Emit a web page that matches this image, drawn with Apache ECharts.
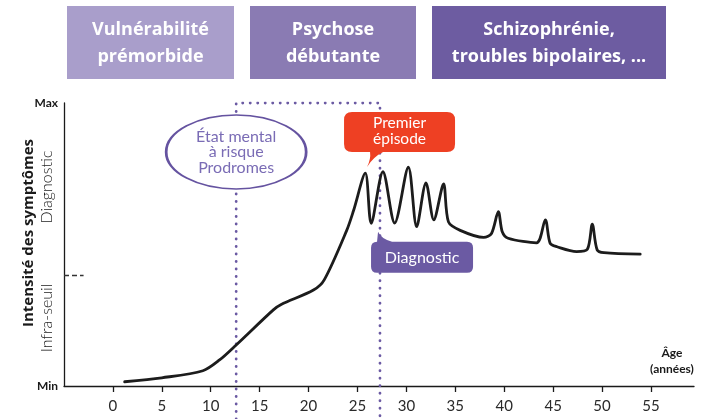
<!DOCTYPE html>
<html lang="fr">
<head>
<meta charset="utf-8">
<title>Intensité des symptômes selon l'âge</title>
<script src="https://cdn.jsdelivr.net/npm/echarts@6/dist/echarts.min.js"></script>
<style>
  html, body { margin: 0; padding: 0; background: #fff; }
  #chart { width: 702px; height: 419px; }
</style>
</head>
<body>
<div id="chart"></div>
<script>
// --- data ---
const ageTicks = [0, 5, 10, 15, 20, 25, 30, 35, 40, 45, 50, 55]

const curveAges = [
  1.2, 5, 9.2, 10.9, 12.6, 16.4, 17.2, 20.5, 21.6, 23.9, 24.6,
  25.8, 26.4, 27.6, 28.8, 30.2, 31.05, 32.0, 32.8, 33.8, 34.3, 35.5,
  37.9, 38.7, 39.4, 39.8, 40.4, 43.3, 44.2, 44.7, 45.4, 47.4, 48.5,
  49.0, 49.5, 50.2, 53.9
]
const curveIntensity = [
  1.5, 2.9, 5.4, 9.2, 14.5, 26.9, 28.8, 33.9, 37.5, 55, 62,
  75.2, 57.5, 75.7, 57.6, 77.3, 56.3, 71.8, 58.7, 71.4, 58, 55,
  52.5, 53.9, 61.6, 54.5, 52.2, 50.6, 58.7, 50.4, 49.2, 47.5, 48.3,
  57.2, 48.1, 47.1, 46.6
]

const seuil = 39.2            // limite infra-seuil / diagnostic
const ageProdromes = 12.6     // début de la psychose débutante
const ageDiagnostic = 27.3    // diagnostic
const bracketBottom = -11.7   // les pointillés descendent sous l'axe

const phaseLabels = ['Vulnérabilité\nprémorbide', 'Psychose\ndébutante', 'Schizophrénie,\ntroubles bipolaires, ...']
const phaseColors = ['#a99ecb', '#8a7bb3', '#6d5ca1']

// --- layout ---
const FONT = 'Lato, "DejaVu Sans", sans-serif'
const FONT_BOLD = '"Open Sans", Lato, sans-serif'
const PURPLE = '#6b5aa3'
const phaseBoxes = [
  { left: 67, width: 167 },
  { left: 250, width: 166 },
  { left: 432, width: 234 }
]

const chart = echarts.init(document.getElementById('chart'))

const curveData = curveAges.map((age, i) => [age, curveIntensity[i]])
const bracketData = [
  [ageProdromes, bracketBottom],
  [ageProdromes, 100],
  [ageDiagnostic, 100],
  [ageDiagnostic, bracketBottom]
]

const txt = (text, x, y, extra) => ({
  type: 'text',
  x, y,
  silent: true,
  ...extra,
  style: Object.assign({
    text,
    fill: '#1a1a1a',
    fontFamily: FONT,
    align: 'center', textAlign: 'center',
    verticalAlign: 'middle', textVerticalAlign: 'middle'
  }, extra && extra.style)
})

const phaseGraphics = phaseLabels.map((label, i) => ({
  type: 'group',
  left: phaseBoxes[i].left,
  top: 6,
  silent: true,
  children: [
    { type: 'rect', shape: { x: 0, y: 0, width: phaseBoxes[i].width, height: 73 }, style: { fill: phaseColors[i] } },
    txt(label, phaseBoxes[i].width / 2, 37, {
      style: { fill: '#fff', fontSize: 18, fontWeight: 'bold', lineHeight: 27, fontFamily: FONT_BOLD }
    })
  ]
}))

const bubblePremier = 'path://M8,0 H103 Q111,0 111,8 V32 Q111,40 103,40 H39 Q29,45 23,55 Q27,47 26,40 H8 Q0,40 0,32 V8 Q0,0 8,0 Z'
const bubbleDiag = 'path://M7,0 Q10,7 21,10 H96 Q102,10 102,16 V35 Q102,41 96,41 H6 Q0,41 0,35 V16 Q0,10 6,10 Z'

chart.setOption({
  animation: false,
  backgroundColor: '#fff',
  textStyle: { fontFamily: FONT },
  grid: [
    { left: 64, right: 8, top: 103, bottom: 33 },
    { left: 64, right: 8, top: 103, bottom: 0 }
  ],
  xAxis: [
    {
      type: 'value',
      gridIndex: 0,
      min: -5,
      max: 59.4,
      axisLine: { show: true, onZero: false, lineStyle: { color: '#1a1a1a', width: 1.3 } },
      axisTick: { show: true, customValues: ageTicks, length: 6, lineStyle: { color: '#1a1a1a', width: 1.3 } },
      axisLabel: { customValues: ageTicks, fontSize: 15, color: '#2a2a2a', margin: 13, fontFamily: FONT },
      splitLine: { show: false }
    },
    { type: 'value', gridIndex: 1, min: -5, max: 59.4, show: false }
  ],
  yAxis: [
    {
      type: 'value',
      gridIndex: 0,
      min: 0,
      max: 100,
      interval: 100,
      axisLine: { show: true, onZero: false, lineStyle: { color: '#1a1a1a', width: 1.3 } },
      axisTick: { show: false },
      axisLabel: {
        margin: 6,
        fontSize: 12,
        fontWeight: 'bold',
        color: '#1a1a1a',
        fontFamily: FONT,
        formatter: (v) => (v === 100 ? 'Max' : 'Min')
      },
      splitLine: { show: false }
    },
    { type: 'value', gridIndex: 1, min: bracketBottom, max: 100, show: false }
  ],
  series: [
    {
      name: 'périodes',
      type: 'line',
      xAxisIndex: 1,
      yAxisIndex: 1,
      data: bracketData,
      symbol: 'none',
      silent: true,
      z: 1,
      lineStyle: { color: PURPLE, width: 2.8, type: [0.1, 7.4], cap: 'round' },
      markPoint: {
        silent: true,
        data: [
          {
            coord: [ageProdromes, 82.7],
            symbol: 'circle',
            symbolSize: [140, 74],
            itemStyle: { color: '#fff', borderColor: '#6553a0', borderWidth: 2 },
            label: { formatter: 'État mental\nà risque\nProdromes', color: '#7a6cb5', fontSize: 16, lineHeight: 15.5, fontFamily: FONT }
          },
          {
            coord: [29.3, 87.1],
            symbol: bubblePremier,
            symbolSize: [111, 55],
            itemStyle: { color: '#ee4023' },
            label: { formatter: 'Premier\népisode', color: '#fff', fontSize: 15.5, lineHeight: 16, offset: [0, -8], fontFamily: FONT }
          },
          {
            coord: [31.6, 47.2],
            symbol: bubbleDiag,
            symbolSize: [102, 41],
            itemStyle: { color: PURPLE },
            label: { formatter: 'Diagnostic', color: '#fff', fontSize: 16, offset: [0, 5], fontFamily: FONT }
          }
        ]
      }
    },
    {
      name: 'Intensité des symptômes',
      type: 'line',
      xAxisIndex: 0,
      yAxisIndex: 0,
      data: curveData,
      symbol: 'none',
      smooth: 0.3,
      z: 3,
      lineStyle: { color: '#1c1c1c', width: 2.8, cap: 'round', join: 'round' },
      markLine: {
        silent: true,
        symbol: 'none',
        label: { show: false },
        lineStyle: { color: '#333', width: 1.3, type: [5, 3] },
        data: [[{ coord: [-5, seuil] }, { coord: [-3, seuil] }]]
      }
    }
  ],
  graphic: [
    ...phaseGraphics,
    txt('Intensité des symptômes', 29, 233, { rotation: Math.PI / 2, style: { fontSize: 15, fontWeight: 'bold', fontFamily: FONT_BOLD } }),
    txt('Diagnostic', 47, 187, { rotation: Math.PI / 2, style: { fontSize: 16, fontWeight: 300 } }),
    txt('Infra-seuil', 47, 318, { rotation: Math.PI / 2, style: { fontSize: 16, fontWeight: 300 } }),
    txt('Âge\n(années)', 672, 361, { style: { fontSize: 12, fontWeight: 'bold', lineHeight: 16 } })
  ]
})

window.addEventListener('resize', () => chart.resize())
</script>
</body>
</html>
